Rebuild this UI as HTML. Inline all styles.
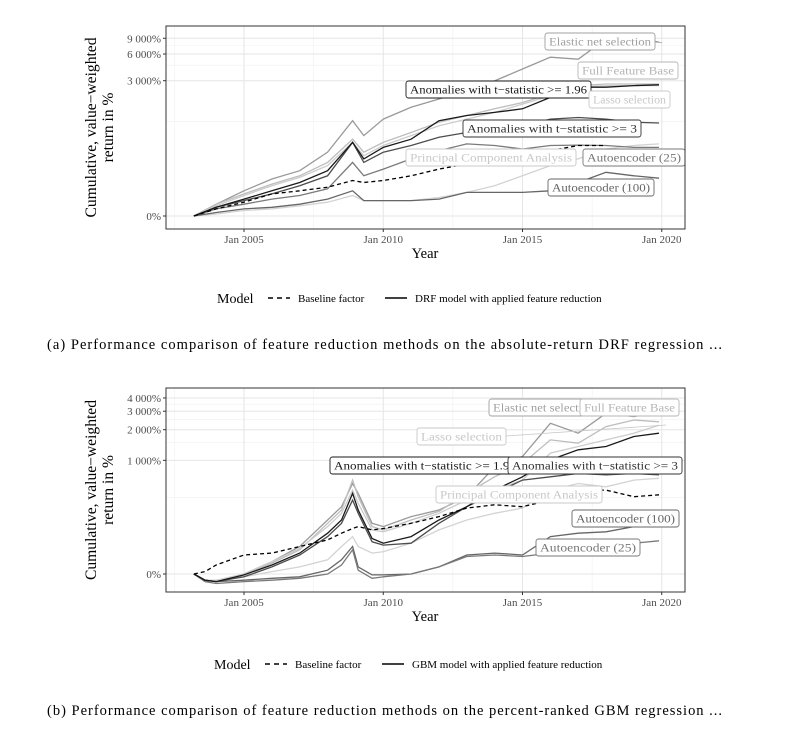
<!DOCTYPE html>
<html><head><meta charset="utf-8"><style>
body{margin:0;background:#fff;width:794px;height:738px;overflow:hidden}
svg text{font-family:"Liberation Serif",serif}
</style></head><body>
<svg id="s" width="794" height="738" xmlns="http://www.w3.org/2000/svg"></svg>
<script>
// ---------- data (cumulative log growth ln(1+r)) ----------
const seriesNames = ["Elastic net selection","Full Feature Base","Lasso selection","Anomalies with t-statistic >= 1.96","Anomalies with t-statistic >= 3","Baseline factor","Autoencoder (25)","Principal Component Analysis","Autoencoder (100)"];
const yearsA = [2003.2,2004,2005,2006,2007,2008,2008.9,2009.3,2010,2011,2012,2013,2014,2015,2016,2017,2018,2019,2019.9];
const aElastic = [0,.30,.64,.94,1.15,1.62,2.42,2.04,2.46,2.76,2.97,3.18,3.43,3.73,4.03,3.98,4.49,4.49,4.41];
const aFull = [0,.30,.56,.81,1.02,1.36,1.95,1.62,1.87,2.12,2.38,2.55,2.72,2.88,3.10,3.31,3.35,3.35,3.35];
const aLasso = [0,.26,.52,.77,.98,1.28,1.87,1.53,1.79,2.04,2.29,2.46,2.63,2.84,3.05,3.27,3.31,3.31,3.31];
const aAnom196 = [0,.22,.43,.64,.85,1.15,1.87,1.45,1.74,1.95,2.42,2.55,2.63,2.72,3.01,3.27,3.27,3.31,3.33];
const aAnom3 = [0,.22,.39,.56,.77,1.02,1.87,1.36,1.62,1.79,2.0,2.12,2.17,2.29,2.46,2.50,2.46,2.38,2.36];
const aBase = [0,.18,.35,.56,.64,.73,.90,.85,.90,1.02,1.19,1.32,1.45,1.53,1.66,1.79,1.79,null,null];
const aAuto25 = [0,.18,.30,.43,.52,.69,1.36,1.02,1.19,1.45,1.66,1.83,1.79,1.70,1.79,1.80,1.79,1.74,1.74];
const aPCA = [0,.05,.14,.18,.26,.35,.52,.39,.39,.39,.47,.60,.77,1.02,1.28,1.45,1.70,1.79,1.83];
const aAuto100 = [0,.09,.18,.22,.30,.43,.64,.39,.39,.39,.43,.60,.60,.60,.64,.85,1.11,1.02,.96];

const yearsB = [2003.2,2003.6,2004,2005,2006,2007,2008,2008.5,2008.9,2009.1,2009.6,2010,2011,2012,2013,2014,2015,2016,2017,2018,2019,2019.9];
const bBase = [0,.05,.19,.40,.44,.58,.72,.86,.96,1.0,.93,.96,1.07,1.21,1.39,1.46,1.42,1.56,1.77,1.77,1.63,1.67];
const bElastic = [0,-.13,-.16,0,.26,.58,1.14,1.42,1.91,1.70,1.07,1.0,1.21,1.35,1.63,2.26,2.48,3.18,2.97,3.39,3.32,3.42];
const bFull = [0,-.13,-.16,-.02,.23,.51,1.07,1.35,1.98,1.63,1.0,.93,1.14,1.32,1.70,2.05,2.33,2.83,2.76,3.11,3.25,3.21];
const bLasso = [0,-.13,-.13,0,.26,.54,1.0,1.28,1.77,1.49,.93,.89,1.07,1.28,1.56,1.77,1.98,2.55,2.69,2.83,2.97,3.14];
const bAnom196 = [0,-.13,-.16,-.02,.19,.44,.86,1.14,1.70,1.35,.75,.65,.79,1.14,1.42,1.77,2.05,2.41,2.62,2.69,2.90,2.97];
const bAnom3 = [0,-.13,-.16,-.06,.15,.40,.79,1.07,1.56,1.28,.68,.61,.65,1.07,1.42,1.70,1.98,2.05,2.12,2.09,2.12,2.09];
const bPCA = [0,-.13,-.13,-.06,.05,.15,.30,.58,.79,.58,.44,.47,.65,.93,1.14,1.28,1.39,1.77,1.91,1.84,1.98,2.02];
const bAuto100 = [0,-.13,-.16,-.13,-.09,-.06,.08,.30,.58,.15,-.02,-.02,0,.15,.40,.44,.40,.79,.86,.89,1.0,1.10];
const bAuto25 = [0,-.16,-.20,-.16,-.13,-.09,0,.19,.51,.08,-.09,-.06,0,.15,.37,.40,.37,.44,.51,.58,.65,.70];

const xTickYears = [2005,2010,2015,2020];
const xTickLabels = ["Jan 2005","Jan 2010","Jan 2015","Jan 2020"];
const aYTicks = [0,3000,6000,9000];
const aYTickLabels = ["0%","3 000%","6 000%","9 000%"];
const bYTicks = [0,1000,2000,3000,4000];
const bYTickLabels = ["0%","1 000%","2 000%","3 000%","4 000%"];

// ---------- drawing ----------
const NS="http://www.w3.org/2000/svg";
const svg=document.getElementById('s');
function el(tag,attrs,parent,txt){const e=document.createElementNS(NS,tag);for(const k in attrs)e.setAttribute(k,attrs[k]);if(txt!==undefined)e.textContent=txt;(parent||svg).appendChild(e);return e;}

function chart(cfg){
  const g=el('g',{});
  
  
  const L=166,R=685,T=cfg.top,B=cfg.bottom;
  const x=yr=>244+(yr-2005)*27.85;
  const y=v=>cfg.zeroY-cfg.k*v;
  const yp=p=>y(Math.log(1+p/100));
  el('rect',{x:L,y:T,width:R-L,height:B-T,fill:'#fff'},g);
  [2002.5,2007.5,2012.5,2017.5].forEach(v=>el('line',{x1:x(v),x2:x(v),y1:T,y2:B,stroke:'#f0f0f0','stroke-width':0.6},g));
  cfg.minor.forEach(p=>el('line',{x1:L,x2:R,y1:yp(p),y2:yp(p),stroke:'#f0f0f0','stroke-width':0.6},g));
  xTickYears.forEach(v=>el('line',{x1:x(v),x2:x(v),y1:T,y2:B,stroke:'#e6e6e6','stroke-width':1},g));
  cfg.yt.forEach(p=>el('line',{x1:L,x2:R,y1:yp(p),y2:yp(p),stroke:'#e6e6e6','stroke-width':1},g));
  cfg.series.forEach(s=>{
    let d='';let pen=false;
    s.v.forEach((v,i)=>{if(v===null){pen=false;return;}d+=(pen?'L':'M')+x(cfg.years[i]).toFixed(1)+','+y(v).toFixed(1);pen=true;});
    const p=el('path',{d:d,fill:'none',stroke:s.c,'stroke-width':1.3,'stroke-dasharray':s.dash?'4,3':'none'},g);
    
    
  });
  cfg.labels.forEach(l=>{
    const lg=el('g',{},g);
    
    
    if(l.lx!==undefined) el('line',{x1:l.x+l.w,y1:l.y+8,x2:l.lx,y2:l.ly,stroke:l.c,'stroke-width':0.8},lg);
    el('rect',{x:l.x,y:l.y,width:l.w,height:17,rx:2.5,fill:'#fff',stroke:l.c,'stroke-width':0.9},lg);
    el('text',{x:l.x+4,y:l.y+12.5,'font-size':12,fill:l.c,textLength:l.w-8,lengthAdjust:'spacingAndGlyphs'},lg,l.t);
  });
  el('rect',{x:L,y:T,width:R-L,height:B-T,fill:'none',stroke:'#333','stroke-width':1},g);
  xTickYears.forEach((v,i)=>{el('line',{x1:x(v),x2:x(v),y1:B,y2:B+3,stroke:'#333'},g);
    el('text',{x:x(v),y:B+14,'font-size':11,fill:'#4d4d4d','text-anchor':'middle'},g,xTickLabels[i]);});
  cfg.yt.forEach((p,i)=>{el('line',{x1:L-3,x2:L,y1:yp(p),y2:yp(p),stroke:'#333'},g);
    el('text',{x:L-5,y:yp(p)+4,'font-size':11,fill:'#4d4d4d','text-anchor':'end'},g,cfg.ytl[i]);});
  const xt=el('text',{x:425,y:B+29,'font-size':14.5,'text-anchor':'middle'},g,'Year');
  
  const cy=(T+B)/2;
  const yt=el('text',{transform:`translate(96,${cy}) rotate(-90)`,'font-size':15.5,'text-anchor':'middle'},g);
  
  el('tspan',{x:0,dy:0,textLength:180,lengthAdjust:'spacingAndGlyphs'},yt,'Cumulative, value\u2212weighted');
  el('tspan',{x:0,dy:17},yt,'return in %');
  const lgd=el('g',{},g);
  
  const ly=cfg.legY;
  el('text',{x:cfg.legX,y:ly+5,'font-size':14},lgd,'Model');
  el('line',{x1:cfg.legX+51,x2:cfg.legX+73,y1:ly,y2:ly,stroke:'#000','stroke-width':1.6,'stroke-dasharray':'5,4'},lgd);
  el('text',{x:cfg.legX+81,y:ly+4,'font-size':11},lgd,'Baseline factor');
  el('line',{x1:cfg.legX+168,x2:cfg.legX+190,y1:ly,y2:ly,stroke:'#000','stroke-width':1.6},lgd);
  el('text',{x:cfg.legX+198,y:ly+4,'font-size':11},lgd,cfg.legText);
  const cap=el('text',{x:47,y:cfg.capY,'font-size':14.5,textLength:cfg.capW,lengthAdjust:'spacing'},g,cfg.caption);
  
}

const C={el:'#9a9a9a',full:'#bdbdbd',lasso:'#cccccc',a196:'#1a1a1a',a3:'#4d4d4d',base:'#000',a25:'#7a7a7a',pca:'#d3d3d3',a100:'#666666'};

chart({name:'chart-drf',top:26,bottom:229,zeroY:216,k:39.4,years:yearsA,yt:aYTicks,ytl:aYTickLabels,minor:[1000,4500,7500],
 series:[{id:'line-elastic-net',v:aElastic,c:C.el},{id:'line-full-feature',v:aFull,c:C.full},{id:'line-lasso',v:aLasso,c:C.lasso},
 {id:'line-pca',v:aPCA,c:C.pca},{id:'line-autoencoder-100',v:aAuto100,c:C.a100},{id:'line-autoencoder-25',v:aAuto25,c:C.a25},
 {id:'line-anomalies-3',v:aAnom3,c:C.a3},{id:'line-anomalies-196',v:aAnom196,c:C.a196},{id:'line-baseline',v:aBase,c:C.base,dash:true}],
 labels:[{id:'label-elastic-net',t:'Elastic net selection',x:545,y:33,w:110,c:'#a0a0a0',lx:662,ly:43},
 {id:'label-full-feature',t:'Full Feature Base',x:578,y:62,w:100,c:'#b5b5b5'},
 {id:'label-anomalies-196',t:'Anomalies with t\u2212statistic >= 1.96',x:406,y:81,w:185,c:'#1a1a1a'},
 {id:'label-lasso',t:'Lasso selection',x:589,y:91,w:81,c:'#c8c8c8'},
 {id:'label-anomalies-3',t:'Anomalies with t\u2212statistic >= 3',x:463,y:120,w:178,c:'#333'},
 {id:'label-pca',t:'Principal Component Analysis',x:406,y:149,w:170,c:'#c8c8c8'},
 {id:'label-autoencoder-25',t:'Autoencoder (25)',x:583,y:149,w:102,c:'#777'},
 {id:'label-autoencoder-100',t:'Autoencoder (100)',x:548,y:179,w:106,c:'#666'}],
 legX:217,legY:298,legText:'DRF model with applied feature reduction',capY:349,capW:675,
 caption:'(a) Performance comparison of feature reduction methods on the absolute-return DRF regression ...'});

chart({name:'chart-gbm',top:388,bottom:592,zeroY:574,k:47.4,years:yearsB,yt:bYTicks,ytl:bYTickLabels,minor:[400,1500,2500,3500],
 series:[{id:'line-elastic-net',v:bElastic,c:C.el},{id:'line-full-feature',v:bFull,c:C.full},{id:'line-lasso',v:bLasso,c:C.lasso},
 {id:'line-pca',v:bPCA,c:C.pca},{id:'line-autoencoder-100',v:bAuto100,c:C.a100},{id:'line-autoencoder-25',v:bAuto25,c:C.a25},
 {id:'line-anomalies-3',v:bAnom3,c:C.a3},{id:'line-anomalies-196',v:bAnom196,c:C.a196},{id:'line-baseline',v:bBase,c:C.base,dash:true}],
 labels:[{id:'label-elastic-net',t:'Elastic net selection',x:489,y:399,w:110,c:'#a0a0a0'},
 {id:'label-full-feature',t:'Full Feature Base',x:580,y:399,w:99,c:'#b5b5b5'},
 {id:'label-lasso',t:'Lasso selection',x:417,y:428,w:89,c:'#c8c8c8',lx:666,ly:425},
 {id:'label-anomalies-196',t:'Anomalies with t\u2212statistic >= 1.96',x:330,y:457,w:190,c:'#1a1a1a'},
 {id:'label-anomalies-3',t:'Anomalies with t\u2212statistic >= 3',x:508,y:457,w:174,c:'#333'},
 {id:'label-pca',t:'Principal Component Analysis',x:436,y:486,w:166,c:'#c8c8c8'},
 {id:'label-autoencoder-100',t:'Autoencoder (100)',x:572,y:510,w:107,c:'#666'},
 {id:'label-autoencoder-25',t:'Autoencoder (25)',x:536,y:539,w:104,c:'#777'}],
 legX:214,legY:664,legText:'GBM model with applied feature reduction',capY:715,capW:675,
 caption:'(b) Performance comparison of feature reduction methods on the percent-ranked GBM regression ...'});
</script>
</body></html>
